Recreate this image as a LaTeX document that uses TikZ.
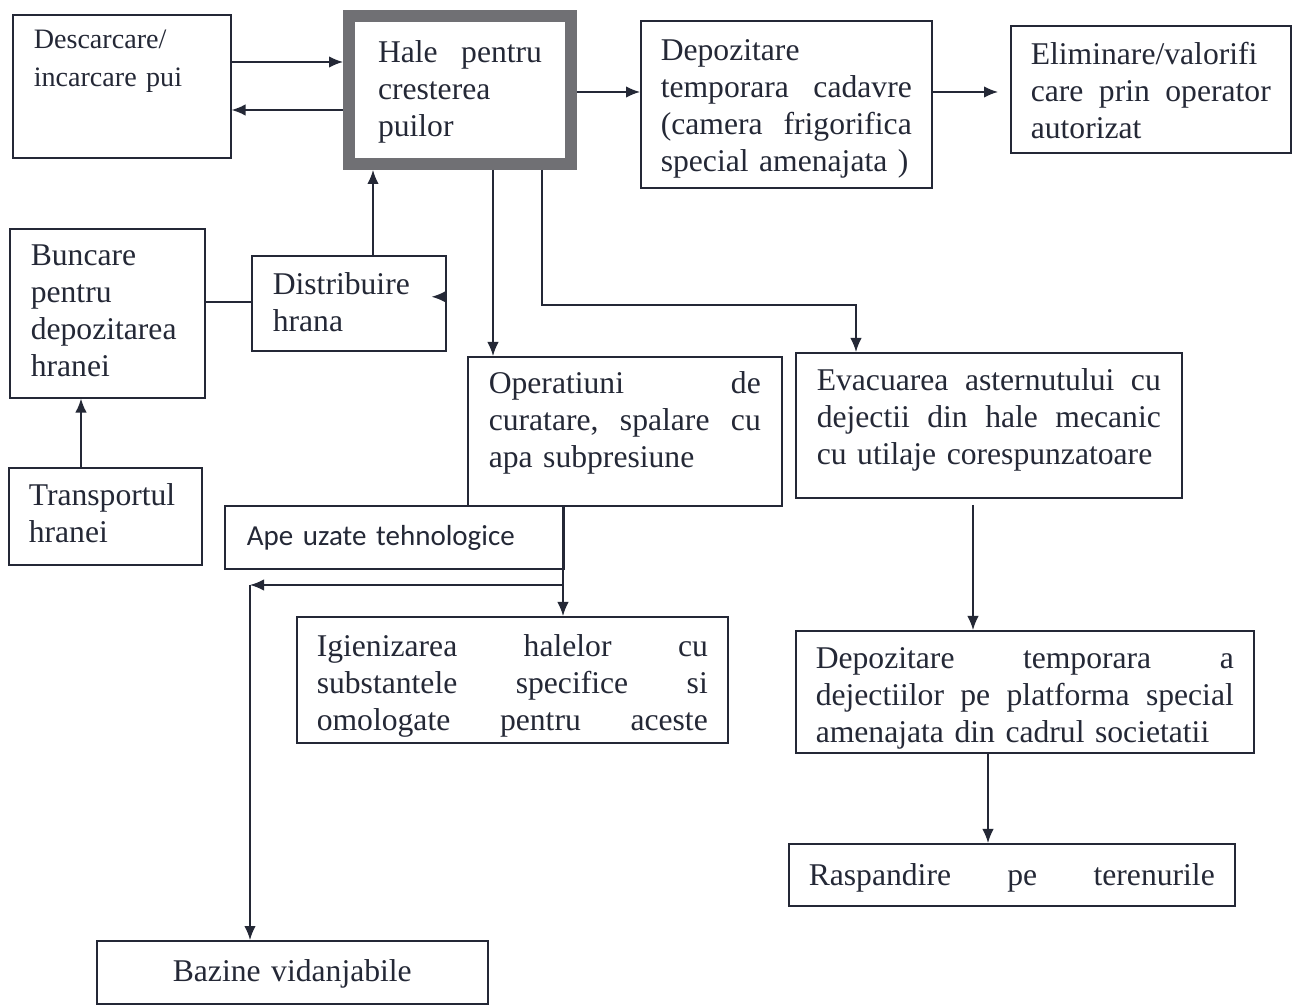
\documentclass[tikz,border=0pt]{standalone}
\usepackage{fontspec}
\setmainfont{Liberation Serif}
\newfontfamily\calibri{Carlito}
\usetikzlibrary{arrows.meta}
\definecolor{ink}{RGB}{36,40,54}
\definecolor{frame}{RGB}{112,112,116}
\tikzset{
  blok/.style={draw=ink, line width=0.9pt, anchor=north west, inner ysep=0pt,
    inner xsep=4mm, align=left, text=ink, font=\fontsize{18}{21}\selectfont},
  arr/.style={draw=ink, line width=0.9pt, -{Latex[length=2.8mm,width=2.3mm]}},
  leg/.style={draw=ink, line width=0.9pt}
}
\begin{document}
\begin{tikzpicture}[x=0.2mm,y=-0.2mm]
  \useasboundingbox[fill=white] (0,0) rectangle (1296,1005);
  % first row
  \node[blok, inner xsep=4.2mm, text width=35.2mm, text height=6.8mm, text depth=21.8mm,
    font=\fontsize{16}{21.6}\selectfont] (desc) at (12,14) {Descarcare/\\incarcare pui};
  \node[blok, draw=frame, line width=2.4mm, inner xsep=5.8mm, text width=32.8mm,
    text height=9.4mm, text depth=20.2mm] (hale) at (343,10) {Hale\hfill pentru\\cresterea\\puilor};
  \node[blok, text width=50.2mm, text height=8mm, text depth=25.4mm] (cad) at (640,20)
    {Depozitare\\temporara\hfill cadavre\\(camera\hfill frigorifica\\special amenajata )};
  \node[blok, text width=48mm, text height=7.8mm, text depth=17.6mm] (elim) at (1010,25)
    {Eliminare/valorifi\\care\hfill prin\hfill operator\\autorizat};
  % hrana
  \node[blok, inner xsep=4.2mm, text width=30.6mm, text height=7.4mm, text depth=26.4mm] (bunc) at (9,228)
    {Buncare\\pentru\\depozitarea\\hranei};
  \node[blok, inner xsep=4.2mm, text width=30.4mm, text height=7.8mm, text depth=11.2mm] (dist) at (251,255)
    {Distribuire\\hrana};
  \node[blok, text width=30.6mm, text height=7.6mm, text depth=11.8mm] (trans) at (8,467)
    {Transportul\\hranei};
  % curatare si dejectii
  \node[blok, inner xsep=4.2mm, text width=54.4mm, text height=7.4mm, text depth=22.4mm] (oper) at (467,356)
    {Operatiuni\hfill de\\curatare,\hfill spalare\hfill cu\\apa subpresiune};
  \node[blok, inner xsep=4.2mm, text width=68.8mm, text height=7.6mm, text depth=21.4mm] (evac) at (795,352)
    {Evacuarea\hfill asternutului\hfill cu\\dejectii\hfill din\hfill hale\hfill mecanic\\cu utilaje corespunzatoare};
  \node[blok, inner xsep=4.4mm, text width=59mm, text height=8mm, text depth=4.6mm,
    font=\calibri\fontsize{16.5}{20}\selectfont] (ape) at (224,505) {Ape uzate tehnologice};
  \node[blok, text width=78.2mm, text height=8mm, text depth=17.2mm] (igien) at (296,616)
    {Igienizarea\hfill halelor\hfill cu\\substantele\hfill specifice\hfill si\\omologate\hfill pentru\hfill aceste};
  \node[blok, text width=83.6mm, text height=7.6mm, text depth=16.8mm] (dej) at (795,630)
    {Depozitare\hfill temporara\hfill a\\dejectiilor\hfill pe\hfill platforma\hfill special\\amenajata din cadrul societatii};
  \node[blok, text width=81.2mm, text height=8.4mm, text depth=4mm] (rasp) at (788,843)
    {Raspandire\hfill pe\hfill terenurile};
  \node[blok, align=center, text width=70.2mm, text height=8.2mm, text depth=4.4mm] (baz) at (96,940)
    {Bazine vidanjabile};

  \coordinate (split) at (563,585);
  \coordinate (bend) at (250,585);
  \coordinate (evgap) at (973,505);

  \draw[arr] (desc.east |- 0,62) -- (hale.west |- 0,62);
  \draw[arr] (hale.west |- 0,110) -- (desc.east |- 0,110);
  \draw[arr] (hale.east |- 0,92) -- (cad.west |- 0,92);
  \draw[arr] (cad.east |- 0,92) -- ([xshift=-2.4mm]elim.west |- 0,92);
  \draw[arr] (dist.north -| 373,0) -- (hale.south -| 373,0);
  \draw[arr] ([yshift=1.3mm]dist.east) -- ++(-3mm,0);
  \draw[leg] (bunc.east |- 0,302) -- (dist.west |- 0,302);
  \draw[arr] (trans.north -| 81,0) -- (bunc.south -| 81,0);
  \draw[arr] (hale.south -| 493,0) -- (oper.north -| 493,0);
  \draw[arr] (hale.south -| 542,0) |- (856,305) -- (evac.north -| 856,0);
  \draw[arr] (oper.south -| split) -- (igien.north -| split);
  \draw[arr] (split) -- (bend);
  \draw[arr] (bend) -- (baz.north -| bend);
  \draw[arr] (evgap) -- (dej.north -| evgap);
  \draw[arr] (dej.south -| 988,0) -- (rasp.north -| 988,0);
\end{tikzpicture}
\end{document}
